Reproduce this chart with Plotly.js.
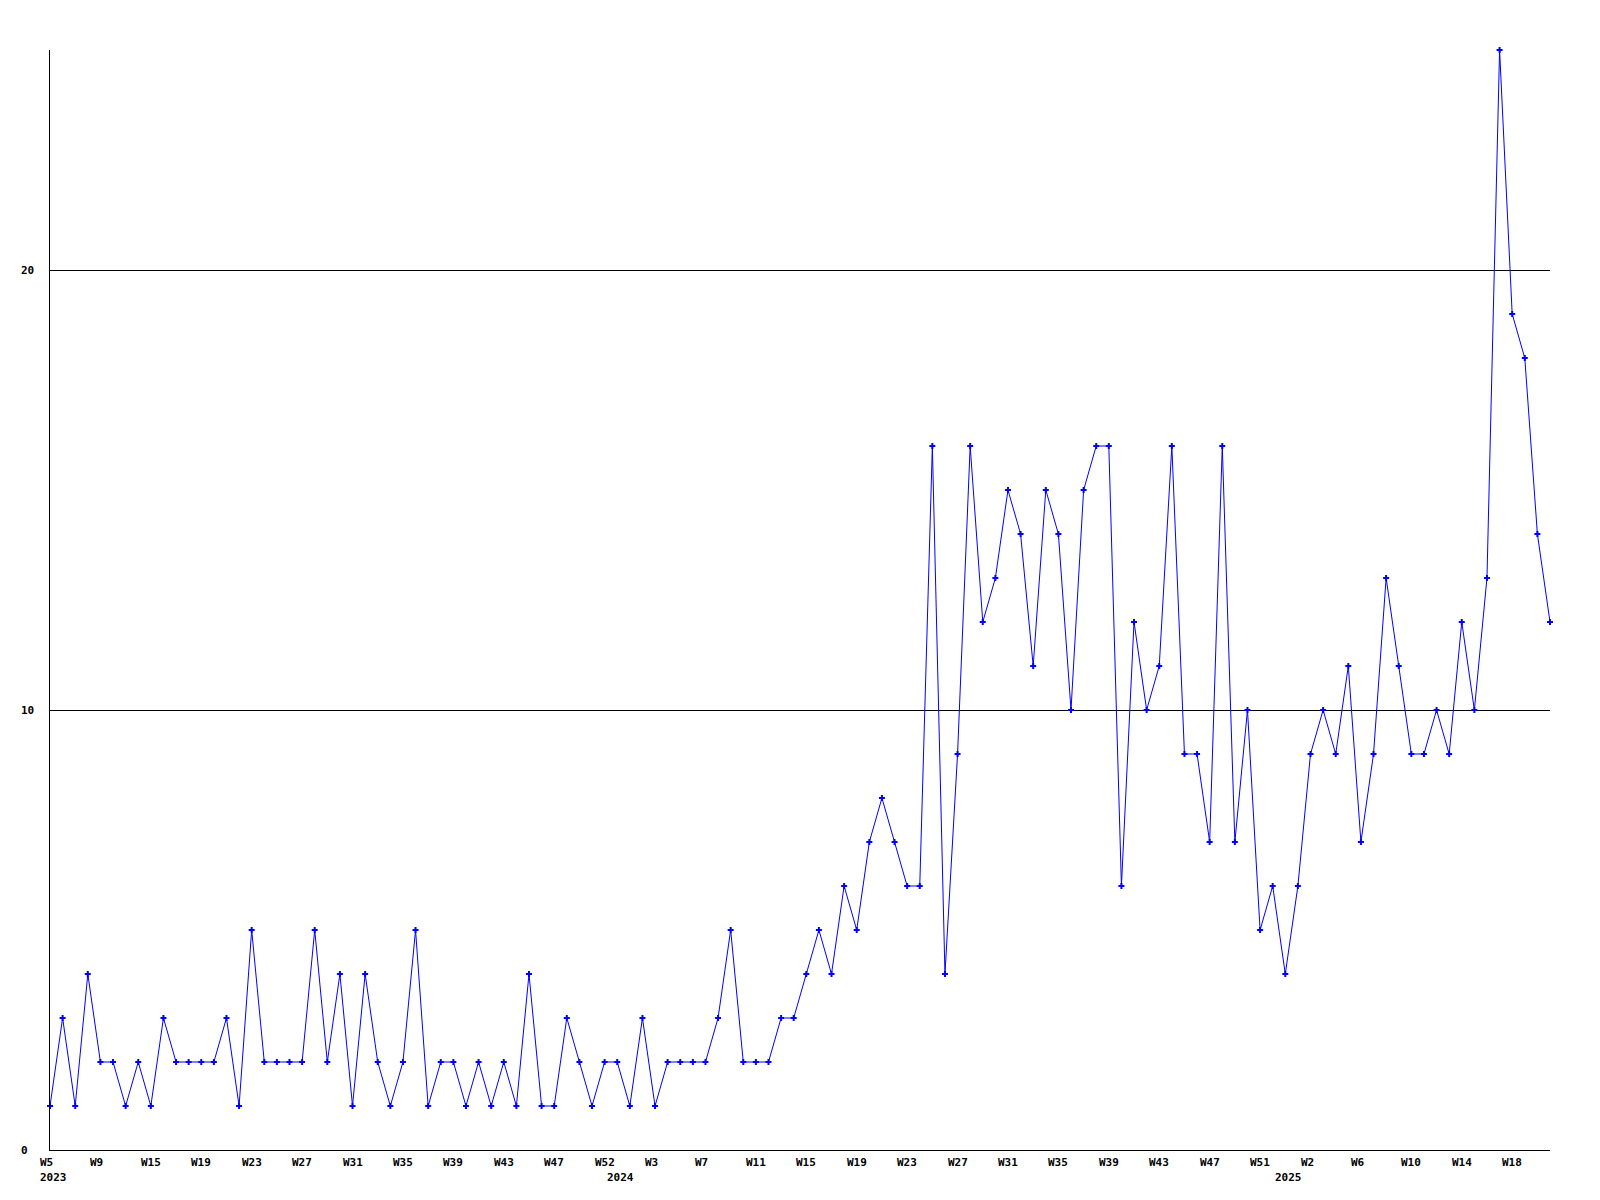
<!DOCTYPE html>
<html>
<head>
<meta charset="utf-8">
<script src="https://cdn.plot.ly/plotly-3.0.1.min.js"></script>
<style>html,body{margin:0;padding:0;background:#fff;}#chart{width:1600px;height:1200px;}</style>
</head>
<body>
<div id="chart"></div>
<script>
// Weekly counts, 2023 W5 .. 2025 ~W21 (120 weeks)
const counts = [
  1,3,1,4,2,2,1,2,1,3, 2,2,2,2,3,1,5,2,2,2,
  2,5,2,4,1,4,2,1,2,5, 1,2,2,1,2,1,2,1,4,1,
  1,3,2,1,2,2,1,3,1,2, 2,2,2,3,5,2,2,2,3,3,
  4,5,4,6,5,7,8,7,6,6, 16,4,9,16,12,13,15,14,11,15,
  14,10,15,16,16,6,12,10,11,16, 9,9,7,16,7,10,5,6,4,6,
  9,10,9,11,7,9,13,11,9,9, 10,9,12,10,13,25,19,18,14,12
];
// x-axis week labels and the week index they sit on
const weekLabels = ["W5","W9","W15","W19","W23","W27","W31","W35","W39","W43","W47","W52","W3","W7","W11","W15","W19","W23","W27","W31","W35","W39","W43","W47","W51","W2","W6","W10","W14","W18"];
const weekLabelIdx = [0,4,8,12,16,20,24,28,32,36,40,44,48,52,56,60,64,68,72,76,80,84,88,92,96,100,104,108,112,116];
const yearLabels = ["2023","2024","2025"];
const yearLabelIdx = [0,45,98];
const yTicks = [0,10,20];

const xs = counts.map((_, i) => i);
const font = {family: "DejaVu Sans Mono, Liberation Mono, monospace", size: 11, color: "#000", weight: "bold"};

const annotations = [];
weekLabels.forEach((t, k) => annotations.push({
  x: weekLabelIdx[k], xref: "x", y: 0, yref: "paper", text: t, showarrow: false,
  xanchor: "left", yanchor: "middle", xshift: -12, yshift: -12, font: font
}));
yearLabels.forEach((t, k) => annotations.push({
  x: yearLabelIdx[k], xref: "x", y: 0, yref: "paper", text: t, showarrow: false,
  xanchor: "left", yanchor: "middle", xshift: -12, yshift: -27, font: font
}));
yTicks.forEach(v => annotations.push({
  x: 0, xref: "paper", y: v, yref: "y", text: String(v), showarrow: false,
  xanchor: "left", yanchor: "middle", xshift: -31, font: font
}));

Plotly.newPlot("chart", [{
  x: xs, y: counts, type: "scatter", mode: "lines+markers",
  line: {color: "#0000ff", width: 1},
  marker: {color: "#0000ff", symbol: "cross", size: 5, line: {width: 0}},
  cliponaxis: false, hoverinfo: "y"
}], {
  width: 1600, height: 1200,
  margin: {l: 50, r: 50, t: 50, b: 50, pad: 0},
  paper_bgcolor: "#fff", plot_bgcolor: "#fff",
  showlegend: false,
  xaxis: {range: [0, counts.length - 1], showgrid: false, zeroline: false, showline: true,
          linecolor: "#000", linewidth: 1, showticklabels: false, ticks: ""},
  yaxis: {range: [0, 25], tickvals: yTicks, showgrid: true, gridcolor: "#000", gridwidth: 1,
          zeroline: false, showline: true, linecolor: "#000", linewidth: 1,
          showticklabels: false, ticks: ""},
  annotations: annotations,
  font: font
}, {displayModeBar: false, staticPlot: true});
</script>
</body>
</html>
